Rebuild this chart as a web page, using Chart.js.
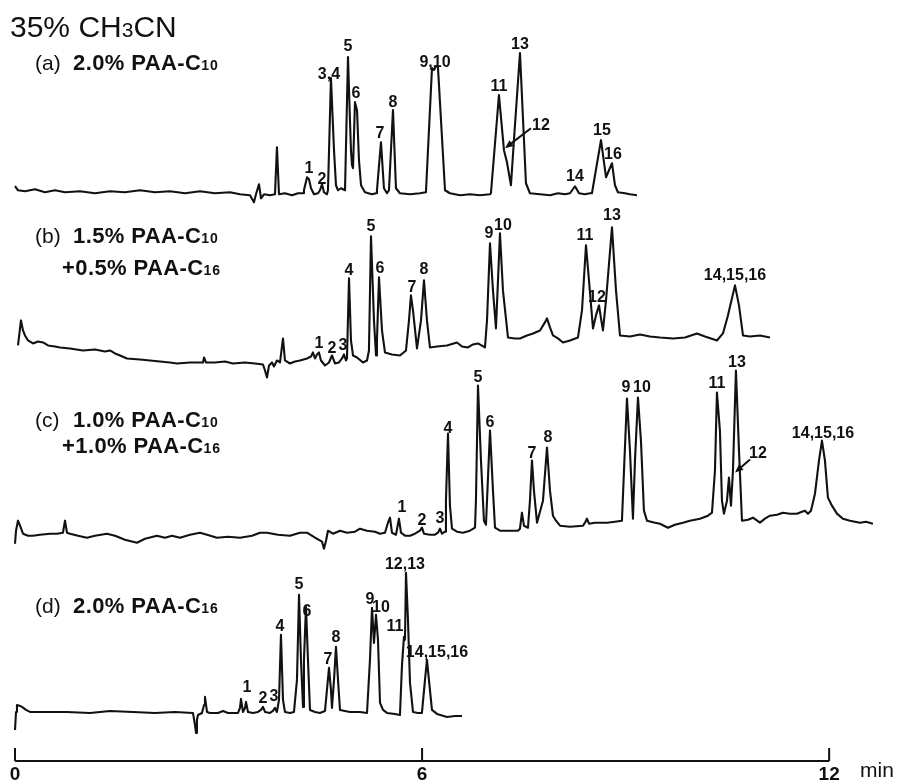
<!doctype html>
<html>
<head>
<meta charset="UTF-8">
<title>35% CH3CN</title>
<script src="https://cdn.jsdelivr.net/npm/chart.js@4/dist/chart.umd.min.js"></script>
<style>
  html, body { margin: 0; padding: 0; background: #fff; }
</style>
</head>
<body>
<canvas id="canvas" width="897" height="784"></canvas>
<script>
// retention time (min) and detector signal
var timeA = [0, 0.044, 0.147, 0.295, 0.442, 0.590, 0.737, 0.958, 1.179, 1.400, 1.621, 1.842, 2.063, 2.284, 2.506, 2.727, 2.948, 3.169, 3.316, 3.464, 3.522, 3.552, 3.596, 3.626, 3.670, 3.758, 3.832, 3.861, 3.891, 3.979, 4.083, 4.171, 4.245, 4.259, 4.304, 4.333, 4.363, 4.407, 4.466, 4.495, 4.525, 4.554, 4.598, 4.613, 4.657, 4.702, 4.731, 4.761, 4.805, 4.864, 4.908, 4.937, 4.952, 4.967, 4.982, 5.011, 5.041, 5.070, 5.100, 5.158, 5.262, 5.321, 5.335, 5.394, 5.438, 5.483, 5.512, 5.571, 5.615, 5.674, 5.822, 5.969, 6.057, 6.146, 6.175, 6.205, 6.234, 6.338, 6.411, 6.559, 6.706, 6.853, 7.001, 7.015, 7.133, 7.207, 7.251, 7.310, 7.354, 7.443, 7.502, 7.531, 7.590, 7.738, 7.885, 8.003, 8.106, 8.180, 8.254, 8.313, 8.401, 8.475, 8.504, 8.637, 8.711, 8.799, 8.843, 8.887, 8.990, 9.064, 9.167];
var sigA = [6, 2, 1, 3, 0, 2, 0, 1, -1, 1, 0, 2, 0, 1, -1, 1, -1, 0, -2, -3, -10, -2, 8, -6, -2, -3, -2, 45, -2, -1, -3, -1, -1, 2, 15, 13, 4, -2, -1, 2, 8, 0, -2, 2, 114, 42, 7, 2, 4, 2, 135, 72, 42, 27, 24, 90, 82, 32, 7, 0, -2, -1, 2, 50, 4, -1, 2, 82, 4, -1, -2, -1, 0, 124, 122, 126, 125, 2, -1, -3, -2, -3, -2, -1, 97, 42, 30, 7, 52, 139, 52, 9, -1, -2, -3, -1, -2, -1, 6, -1, -2, -1, -1, 52, 15, 29, 7, 0, -1, -2, -3];

var timeB = [0.044, 0.088, 0.118, 0.147, 0.192, 0.265, 0.339, 0.413, 0.486, 0.590, 0.663, 0.811, 1.002, 1.179, 1.326, 1.400, 1.474, 1.548, 1.651, 1.842, 1.990, 2.137, 2.284, 2.388, 2.579, 2.771, 2.786, 2.815, 2.948, 3.095, 3.213, 3.390, 3.537, 3.655, 3.685, 3.714, 3.744, 3.788, 3.817, 3.861, 3.906, 3.950, 3.979, 4.053, 4.127, 4.200, 4.304, 4.363, 4.392, 4.422, 4.451, 4.480, 4.510, 4.569, 4.628, 4.672, 4.716, 4.775, 4.820, 4.849, 4.878, 4.893, 4.923, 4.952, 4.982, 5.041, 5.129, 5.188, 5.217, 5.247, 5.291, 5.321, 5.335, 5.365, 5.409, 5.453, 5.556, 5.674, 5.763, 5.807, 5.836, 5.866, 5.925, 5.984, 6.028, 6.072, 6.116, 6.220, 6.367, 6.514, 6.588, 6.677, 6.750, 6.824, 6.927, 6.957, 7.001, 7.045, 7.089, 7.119, 7.148, 7.192, 7.266, 7.369, 7.443, 7.546, 7.635, 7.738, 7.811, 7.841, 7.885, 7.929, 8.003, 8.077, 8.180, 8.298, 8.357, 8.416, 8.460, 8.519, 8.563, 8.608, 8.637, 8.666, 8.711, 8.799, 8.858, 8.917, 9.064, 9.212, 9.359, 9.506, 9.698, 9.875, 10.052, 10.170, 10.346, 10.435, 10.508, 10.612, 10.671, 10.730, 10.833, 10.980, 11.128];
var sigB = [5, 30, 20, 15, 10, 7, 9, 8, 5, 4, 3, 2, 0, 1, -1, 0, -3, -5, -8, -9, -10, -11, -12, -13, -12, -12, -7, -12, -12, -11, -13, -12, -13, -14, -20, -27, -15, -12, -16, -10, -12, 12, -10, -13, -11, -10, -8, -6, -2, -8, -4, -2, -10, -15, -12, -5, -13, -12, -8, -4, -10, -8, 72, 10, -5, -7, -12, -10, 0, 114, 30, -5, 10, 73, 20, -2, -4, -5, 0, 30, 55, 40, 2, 30, 70, 30, 3, 4, 5, 8, 4, 3, 6, 7, 3, 30, 107, 60, 22, 70, 117, 60, 13, 12, 12, 15, 17, 20, 28, 32, 23, 15, 12, 8, 10, 13, 40, 105, 70, 22, 35, 45, 32, 20, 50, 123, 60, 15, 14, 16, 14, 13, 12, 13, 17, 14, 10, 17, 35, 65, 45, 15, 14, 15, 13];

var timeC = [0, 0.015, 0.044, 0.074, 0.118, 0.192, 0.265, 0.368, 0.516, 0.619, 0.707, 0.737, 0.766, 0.811, 0.929, 1.061, 1.179, 1.356, 1.474, 1.621, 1.798, 1.916, 2.093, 2.211, 2.314, 2.432, 2.579, 2.727, 2.830, 2.977, 3.139, 3.316, 3.493, 3.611, 3.714, 3.876, 4.053, 4.200, 4.304, 4.422, 4.525, 4.554, 4.584, 4.613, 4.687, 4.790, 4.893, 5.011, 5.085, 5.188, 5.306, 5.380, 5.453, 5.497, 5.527, 5.556, 5.615, 5.659, 5.689, 5.748, 5.822, 5.895, 5.969, 5.998, 6.028, 6.116, 6.190, 6.234, 6.264, 6.293, 6.338, 6.352, 6.382, 6.411, 6.441, 6.514, 6.603, 6.706, 6.780, 6.794, 6.824, 6.868, 6.912, 6.942, 6.957, 7.001, 7.045, 7.075, 7.148, 7.296, 7.413, 7.443, 7.472, 7.502, 7.561, 7.590, 7.620, 7.649, 7.694, 7.782, 7.841, 7.885, 7.929, 7.974, 8.033, 8.180, 8.372, 8.401, 8.430, 8.460, 8.548, 8.725, 8.843, 8.946, 8.976, 9.020, 9.064, 9.108, 9.138, 9.182, 9.226, 9.270, 9.315, 9.433, 9.506, 9.624, 9.727, 9.845, 9.948, 10.096, 10.214, 10.273, 10.317, 10.346, 10.390, 10.420, 10.449, 10.494, 10.523, 10.553, 10.582, 10.626, 10.671, 10.715, 10.803, 10.877, 10.980, 11.054, 11.128, 11.231, 11.319, 11.422, 11.525, 11.599, 11.643, 11.688, 11.732, 11.791, 11.850, 11.894, 11.938, 11.982, 12.041, 12.115, 12.203, 12.307, 12.380, 12.454, 12.542, 12.645];
var sigC = [-13, 0, 10, 5, -3, -5, -5, -4, -3, -3, -2, 10, -2, -3, -5, -7, -5, -3, -5, -9, -12, -8, -5, -7, -5, -7, -4, -2, -4, -7, -6, -7, -5, -2, -2, -4, -5, -2, -2, -7, -11, -18, -10, 0, -3, 0, -2, -1, 2, 0, -1, -3, -2, 8, 13, -2, -4, 12, -2, -5, -5, -3, 0, 3, -3, -4, -4, -2, 2, -3, -1, 30, 97, 25, 2, -1, -2, 0, 3, 30, 145, 70, 10, 6, 30, 100, 40, 3, 0, 0, 0, 2, 18, 5, 3, 30, 70, 40, 8, 30, 83, 40, 15, 10, 5, 4, 5, 8, 12, 7, 8, 8, 9, 10, 60, 132, 80, 12, 70, 133, 90, 20, 10, 8, 7, 3, 6, 8, 10, 12, 15, 18, 60, 138, 100, 30, 17, 30, 53, 25, 60, 160, 80, 10, 11, 13, 8, 12, 15, 16, 18, 17, 17, 19, 20, 17, 20, 37, 70, 90, 70, 33, 25, 17, 12, 10, 9, 8, 9, 7];

var timeD = [0, 0.015, 0.029, 0.074, 0.103, 0.162, 0.221, 0.442, 0.766, 1.105, 1.400, 1.739, 2.063, 2.358, 2.623, 2.653, 2.668, 2.682, 2.697, 2.756, 2.786, 2.800, 2.830, 2.874, 2.992, 3.066, 3.139, 3.287, 3.316, 3.331, 3.360, 3.390, 3.405, 3.434, 3.508, 3.581, 3.626, 3.655, 3.685, 3.758, 3.802, 3.832, 3.861, 3.891, 3.920, 3.950, 3.979, 4.053, 4.112, 4.156, 4.186, 4.215, 4.245, 4.259, 4.289, 4.318, 4.348, 4.422, 4.495, 4.569, 4.598, 4.628, 4.657, 4.672, 4.702, 4.731, 4.761, 4.790, 4.937, 5.085, 5.188, 5.232, 5.262, 5.291, 5.321, 5.350, 5.380, 5.424, 5.483, 5.601, 5.674, 5.704, 5.733, 5.748, 5.763, 5.792, 5.822, 5.866, 5.940, 5.998, 6.043, 6.072, 6.101, 6.146, 6.220, 6.367, 6.485, 6.588];
var sigD = [-18, 0, 7, 6, 5, 2, 0, 0, 0, -1, 1, 0, -1, 0, -1, -13, -21, -8, -3, -1, 7, 15, 0, -1, -1, 1, -1, -1, 4, 13, 0, 4, 10, 0, -1, 0, 2, 5, 0, -1, 1, 4, 0, 12, 77, 12, 0, -1, 0, 32, 117, 52, 5, 52, 105, 52, 2, 0, -1, 1, 22, 44, 22, 4, 32, 65, 32, 2, 0, 0, -1, 52, 104, 69, 97, 72, 9, 2, -1, -2, -3, 47, 75, 72, 139, 92, 29, 0, -1, -1, 32, 52, 32, 2, -2, -5, -4, -4];

// peak numbers: [label, time (min), signal]
var peaksA = [["1", 4.333, 24], ["2", 4.525, 13], ["3,4", 4.628, 118], ["5", 4.908, 145], ["6", 5.026, 99], ["7", 5.380, 59], ["8", 5.571, 90], ["9,10", 6.190, 129], ["11", 7.133, 106], ["12", 7.752, 67], ["13", 7.443, 147], ["14", 8.254, 16], ["15", 8.651, 62], ["16", 8.814, 38]];
var peaksB = [["1", 4.480, 7], ["2", 4.672, 2], ["3", 4.834, 5], ["4", 4.923, 80], ["5", 5.247, 124], ["6", 5.380, 82], ["7", 5.851, 63], ["8", 6.028, 81], ["9", 6.986, 117], ["10", 7.192, 125], ["11", 8.401, 115], ["12", 8.578, 53], ["13", 8.799, 135], ["14,15,16", 10.612, 75]];
var peaksC = [["1", 5.704, 23], ["2", 5.998, 10], ["3", 6.264, 12], ["4", 6.382, 102], ["5", 6.824, 153], ["6", 7.001, 108], ["7", 7.620, 77], ["8", 7.856, 93], ["9", 9.005, 143], ["10", 9.241, 143], ["11", 10.346, 147], ["12", 10.951, 77], ["13", 10.641, 168], ["14,15,16", 11.909, 97]];
var peaksD = [["1", 3.419, 24], ["2", 3.655, 13], ["3", 3.817, 15], ["4", 3.906, 85], ["5", 4.186, 127], ["6", 4.304, 100], ["7", 4.613, 52], ["8", 4.731, 74], ["9", 5.232, 112], ["10", 5.394, 104], ["11", 5.601, 85], ["12,13", 5.748, 147], ["14,15,16", 6.220, 59]];

// arrows pointing at peak 12: [tail time, tail signal, head time, head signal]
var arrowsA = [[7.605, 64, 7.222, 44]];
var arrowsC = [[10.833, 71, 10.612, 58]];

var xTicks = [0, 6, 12];

var FONT = '"Liberation Sans", Arial, Helvetica, sans-serif';
var INK = '#111';

function trace(times, sig, axis) {
	return {
		data: times.map(function(t, i) { return {x: t, y: sig[i]}; }),
		yAxisID: axis,
		borderColor: INK,
		borderWidth: 2.1,
		borderJoinStyle: 'round',
		pointRadius: 0,
		tension: 0,
		fill: false,
		clip: false
	};
}

function yPanel(min, max) {
	return {type: 'linear', position: 'right', stack: 'traces', display: false, min: min, max: max};
}

// draw a run of text pieces, each with its own font
function drawRuns(ctx, x, y, runs) {
	runs.forEach(function(r) {
		ctx.font = r[1];
		ctx.letterSpacing = r[2] || '0px';
		ctx.fillText(r[0], x, y);
		x += ctx.measureText(r[0]).width;
	});
	ctx.letterSpacing = '0px';
}

function paaLine(txt, sub) {
	return [[txt, 'bold 22px ' + FONT, '0.4px'], [sub, 'bold 14px ' + FONT, '1px']];
}

var overlay = {
	id: 'overlay',
	afterDraw: function(chart) {
		var ctx = chart.ctx;
		var x = chart.scales.x;
		var y0 = chart.chartArea.bottom;
		ctx.save();
		ctx.fillStyle = INK;
		ctx.strokeStyle = INK;

		// time axis: line from 0 to 12 with inward ticks
		ctx.lineWidth = 2;
		ctx.beginPath();
		ctx.moveTo(x.getPixelForValue(0), y0);
		ctx.lineTo(x.getPixelForValue(12), y0);
		xTicks.forEach(function(v) {
			var px = x.getPixelForValue(v);
			ctx.moveTo(px, y0);
			ctx.lineTo(px, y0 - 13);
		});
		ctx.stroke();
		ctx.textBaseline = 'alphabetic';
		ctx.textAlign = 'left';
		ctx.font = '21px ' + FONT;
		ctx.fillText('min', 860, 777);

		// title and panel captions
		drawRuns(ctx, 10, 37, [['35% CH', '30px ' + FONT], ['3', '21px ' + FONT], ['CN', '30px ' + FONT]]);
		var tag = '21px ' + FONT;
		ctx.font = tag; ctx.fillText('(a)', 35, 70);
		drawRuns(ctx, 73, 70, paaLine('2.0% PAA-C', '10'));
		ctx.font = tag; ctx.fillText('(b)', 35, 243);
		drawRuns(ctx, 73, 243, paaLine('1.5% PAA-C', '10'));
		drawRuns(ctx, 62, 275, paaLine('+0.5% PAA-C', '16'));
		ctx.font = tag; ctx.fillText('(c)', 35, 427);
		drawRuns(ctx, 73, 427, paaLine('1.0% PAA-C', '10'));
		drawRuns(ctx, 62, 453, paaLine('+1.0% PAA-C', '16'));
		ctx.font = tag; ctx.fillText('(d)', 35, 613);
		drawRuns(ctx, 73, 613, paaLine('2.0% PAA-C', '16'));

		// peak numbers
		ctx.font = 'bold 16px ' + FONT;
		ctx.textAlign = 'center';
		ctx.textBaseline = 'middle';
		[[peaksA, 'yA'], [peaksB, 'yB'], [peaksC, 'yC'], [peaksD, 'yD']].forEach(function(p) {
			var ys = chart.scales[p[1]];
			p[0].forEach(function(pk) {
				ctx.fillText(pk[0], x.getPixelForValue(pk[1]), ys.getPixelForValue(pk[2]));
			});
		});

		// arrows
		[[arrowsA, 'yA'], [arrowsC, 'yC']].forEach(function(p) {
			var ys = chart.scales[p[1]];
			p[0].forEach(function(a) {
				var x1 = x.getPixelForValue(a[0]), y1 = ys.getPixelForValue(a[1]);
				var x2 = x.getPixelForValue(a[2]), y2 = ys.getPixelForValue(a[3]);
				var ang = Math.atan2(y2 - y1, x2 - x1);
				ctx.lineWidth = 2;
				ctx.beginPath();
				ctx.moveTo(x1, y1);
				ctx.lineTo(x2 - 5 * Math.cos(ang), y2 - 5 * Math.sin(ang));
				ctx.stroke();
				ctx.beginPath();
				ctx.moveTo(x2, y2);
				ctx.lineTo(x2 - 9 * Math.cos(ang - 0.4), y2 - 9 * Math.sin(ang - 0.4));
				ctx.lineTo(x2 - 9 * Math.cos(ang + 0.4), y2 - 9 * Math.sin(ang + 0.4));
				ctx.closePath();
				ctx.fill();
			});
		});
		ctx.restore();
	}
};

var ctx = document.getElementById("canvas").getContext("2d");
window.myChart = new Chart(ctx, {
	type: 'line',
	data: {
		datasets: [
			trace(timeA, sigA, 'yA'),
			trace(timeB, sigB, 'yB'),
			trace(timeC, sigC, 'yC'),
			trace(timeD, sigD, 'yD')
		]
	},
	options: {
		responsive: false,
		animation: false,
		devicePixelRatio: 1,
		layout: {padding: {left: 15, right: 0, top: 0, bottom: -5}},
		plugins: {legend: {display: false}, tooltip: {enabled: false}},
		scales: {
			x: {
				type: 'linear',
				min: 0,
				max: 13,
				grid: {display: false, drawTicks: false},
				border: {display: false},
				afterBuildTicks: function(axis) {
					axis.ticks = xTicks.map(function(v) { return {value: v}; });
				},
				ticks: {
					autoSkip: false,
					maxRotation: 0,
					minRotation: 0,
					padding: 4.5,
					color: INK,
					font: {family: FONT, size: 19, weight: 'bold', lineHeight: 1}
				}
			},
			// one stacked band per trace, top to bottom
			yA: yPanel(2, 192),
			yB: yPanel(-30, 160),
			yC: yPanel(-40, 150),
			yD: yPanel(-49, 141)
		}
	},
	plugins: [overlay]
});
</script>
</body>
</html>
